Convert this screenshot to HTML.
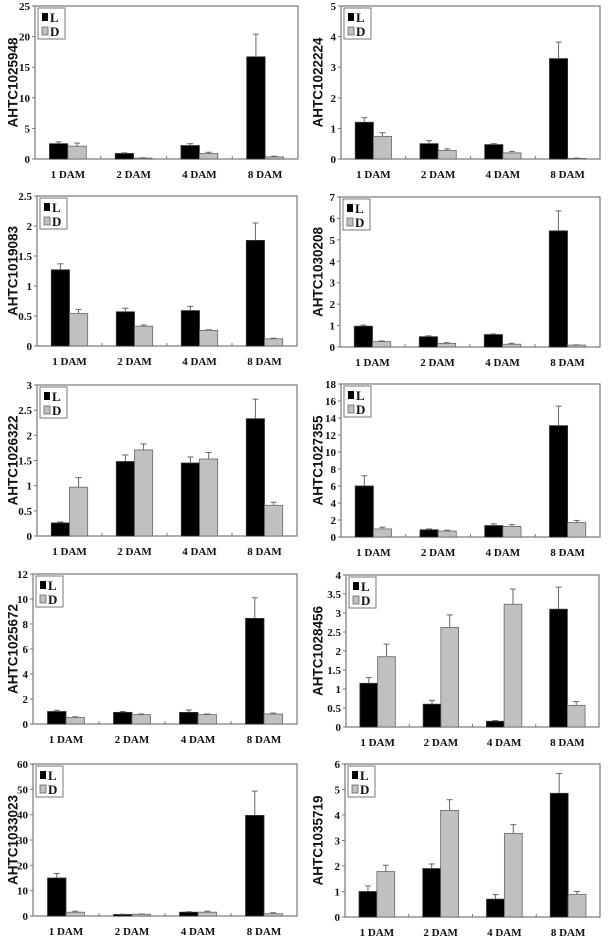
<!DOCTYPE html>
<html><head><meta charset="utf-8">
<style>
html,body{margin:0;padding:0;background:#fff;}
svg{display:block;}
.tk{font-family:"Liberation Serif",serif;font-weight:bold;font-size:11px;fill:#111;}
.lg{font-family:"Liberation Serif",serif;font-weight:bold;font-size:13px;fill:#111;}
.yt{font-family:"Liberation Sans",sans-serif;font-weight:bold;font-size:13.5px;fill:#111;}
</style></head>
<body>
<svg id="fig" width="609" height="936" viewBox="0 0 609 936" xmlns="http://www.w3.org/2000/svg"></svg>
<script>
const categories = ["1 DAM","2 DAM","4 DAM","8 DAM"];
const geneNames = ["AHTC1025948","AHTC1022224","AHTC1019083","AHTC1030208","AHTC1026322","AHTC1027355","AHTC1025672","AHTC1028456","AHTC1033023","AHTC1035719"];
const yMax = [25,5,2.5,7,3,18,12,4,60,6];
const yStep = [5,1,0.5,1,0.5,2,2,0.5,10,1];
const lightValues = [[2.5,0.9,2.2,16.7],[1.2,0.5,0.47,3.28],[1.27,0.57,0.59,1.76],[0.97,0.48,0.58,5.42],[0.26,1.48,1.45,2.33],[6.0,0.85,1.35,13.1],[1.0,0.93,0.93,8.45],[1.15,0.6,0.15,3.1],[15,0.6,1.5,39.7],[1.0,1.9,0.7,4.85]];
const lightErrTop = [[2.8,1.0,2.5,20.4],[1.35,0.6,0.5,3.82],[1.37,0.63,0.66,2.05],[1.02,0.52,0.61,6.35],[0.28,1.61,1.57,2.72],[7.2,0.95,1.55,15.4],[1.1,1.0,1.12,10.1],[1.3,0.7,0.17,3.68],[16.8,0.7,1.7,49.3],[1.22,2.08,0.88,5.63]];
const darkValues = [[2.1,0.15,0.9,0.35],[0.74,0.28,0.2,0.02],[0.54,0.33,0.26,0.12],[0.25,0.17,0.13,0.09],[0.97,1.71,1.53,0.61],[0.95,0.7,1.25,1.7],[0.52,0.75,0.75,0.8],[1.85,2.62,3.23,0.57],[1.5,0.7,1.5,0.9],[1.78,4.18,3.28,0.88]];
const darkErrTop = [[2.6,0.2,1.1,0.45],[0.86,0.33,0.25,0.03],[0.61,0.35,0.27,0.13],[0.28,0.2,0.17,0.1],[1.16,1.83,1.66,0.67],[1.15,0.8,1.45,1.95],[0.58,0.8,0.8,0.87],[2.18,2.95,3.63,0.67],[1.9,0.8,1.9,1.3],[2.03,4.6,3.62,1.0]];
const frames = [[35,298,6,159],[341,600,6,159],[37,297,196,346],[340,600,197,347],[37,297,385,536],[341,600,384,537],[33,297,574,724],[346,599,575,727],[33,297,764,916],[345,600,764,917]];

const NS="http://www.w3.org/2000/svg";
const svg=document.getElementById('fig');
function mk(tag,attrs,parent,text){const e=document.createElementNS(NS,tag);for(const k in attrs)e.setAttribute(k,attrs[k]);if(text!==undefined)e.textContent=text;parent.appendChild(e);return e;}

frames.forEach((f,p)=>{
  const [x0,x1,y0,y1]=f;
  const g=mk('g',{},svg);
  
  
  const yS=v=>y1-(v/yMax[p])*(y1-y0);
  const gw=(x1-x0)/4, bw=gw*0.28;
  const frame=mk('rect',{x:x0,y:y0,width:x1-x0,height:y1-y0,fill:'none',stroke:'#777','stroke-width':1.2},g);
  
  
  const nT=Math.round(yMax[p]/yStep[p]);
  for(let i=0;i<=nT;i++){
    const v=+(i*yStep[p]).toFixed(2), y=yS(v);
    mk('line',{x1:x0-3,x2:x0,y1:y,y2:y,stroke:'#777'},g);
    const t=mk('text',{x:x0-5,y:y+4,'text-anchor':'end',class:'tk'},g,String(v));
    
    
  }
  for(let i=1;i<4;i++){const x=x0+gw*i;mk('line',{x1:x,x2:x,y1:y1,y2:y1-3,stroke:'#777'},g);}
  categories.forEach((c,i)=>{
    const cx=x0+gw*(i+0.5);
    const t=mk('text',{x:cx,y:y1+19,'text-anchor':'middle',class:'tk'},g,c);
    
    
    const lv=lightValues[p][i], le=lightErrTop[p][i];
    const bl=mk('rect',{x:cx-bw,y:yS(lv),width:bw,height:y1-yS(lv),fill:'#000',stroke:'#333','stroke-width':0.8},g);
    
    
    const lx=cx-bw/2;
    mk('line',{x1:lx,x2:lx,y1:yS(lv),y2:yS(le),stroke:'#666','stroke-width':1},g);
    mk('line',{x1:lx-3,x2:lx+3,y1:yS(le),y2:yS(le),stroke:'#666','stroke-width':1},g);
    const dv=darkValues[p][i], de=darkErrTop[p][i];
    const bd=mk('rect',{x:cx,y:yS(dv),width:bw,height:y1-yS(dv),fill:'#c0c0c0',stroke:'#666','stroke-width':0.8},g);
    
    
    const dx=cx+bw/2;
    mk('line',{x1:dx,x2:dx,y1:yS(dv),y2:yS(de),stroke:'#666','stroke-width':1},g);
    mk('line',{x1:dx-3,x2:dx+3,y1:yS(de),y2:yS(de),stroke:'#666','stroke-width':1},g);
  });
  const lg=mk('g',{},g);
  
  
  mk('rect',{x:x0+3,y:y0+2,width:27,height:31,fill:'#fff',stroke:'#777'},lg);
  mk('rect',{x:x0+7,y:y0+7,width:6,height:8,fill:'#000'},lg);
  mk('text',{x:x0+15,y:y0+16,class:'lg'},lg,'L');
  mk('rect',{x:x0+7,y:y0+21,width:6,height:8,fill:'#c0c0c0',stroke:'#666','stroke-width':0.8},lg);
  mk('text',{x:x0+15,y:y0+30,class:'lg'},lg,'D');
  const tx=(p%2===0)?13:318, ty=(y0+y1)/2;
  const yt=mk('text',{x:tx,y:ty,'text-anchor':'middle',class:'yt',transform:`rotate(-90 ${tx} ${ty})`,'dominant-baseline':'central'},g,geneNames[p]);
  
  
});
</script>
</body></html>
